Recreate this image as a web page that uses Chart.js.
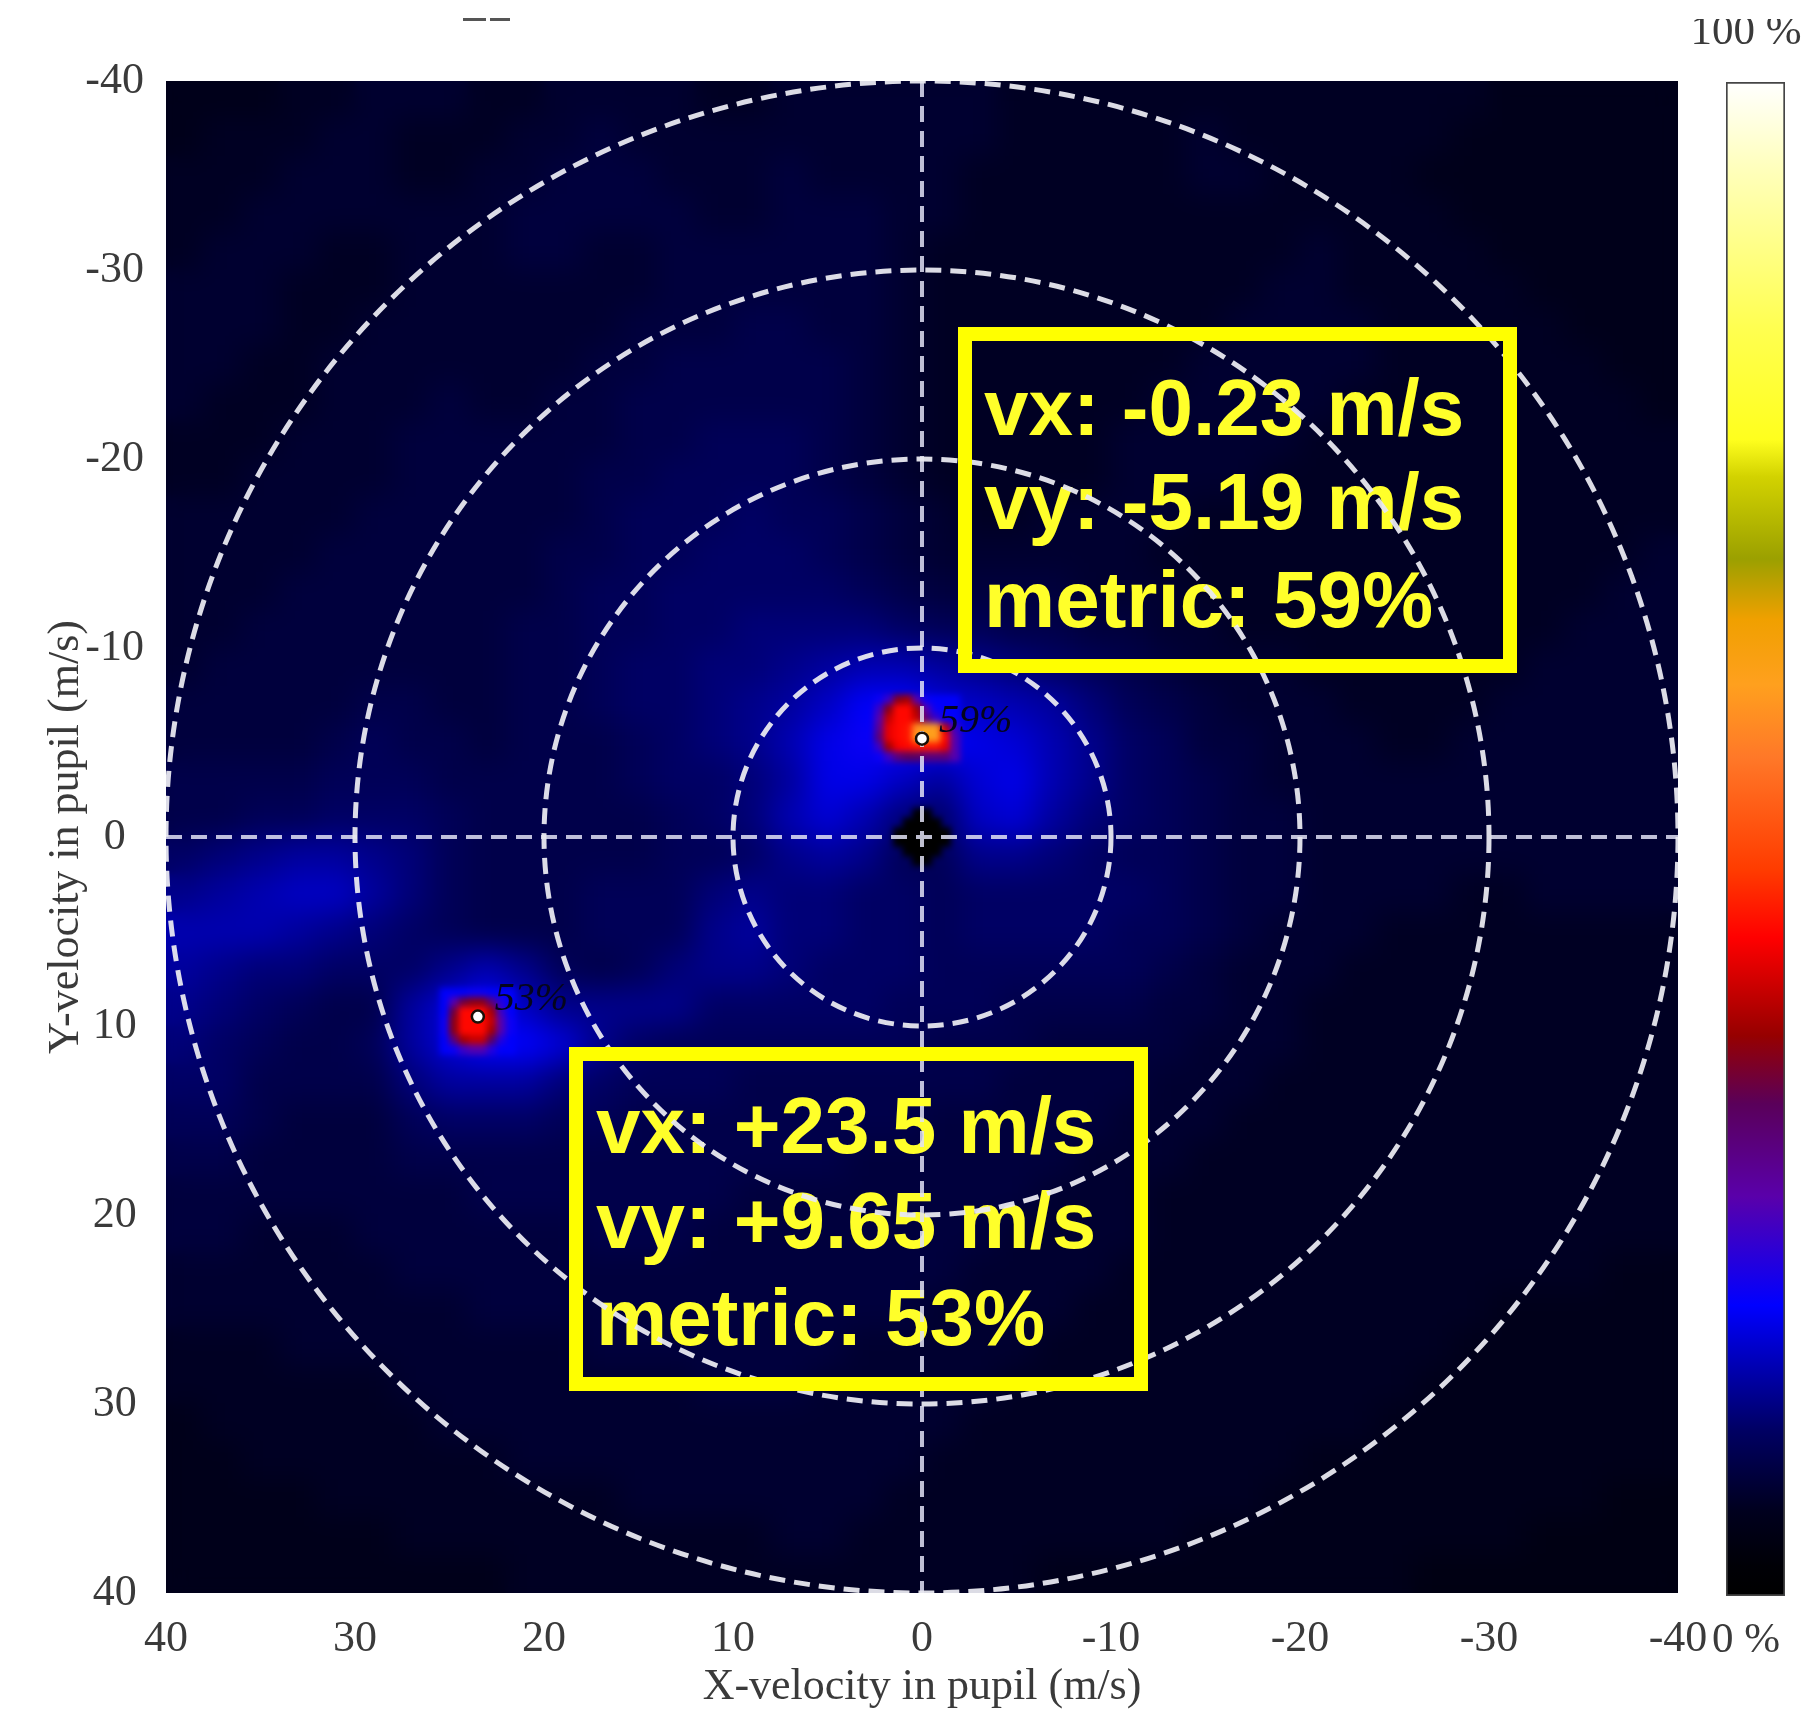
<!DOCTYPE html>
<html>
<head>
<meta charset="utf-8">
<title>Velocity map</title>
<script src="https://cdn.jsdelivr.net/npm/chart.js@4"></script>
<style>
  html, body { margin: 0; padding: 0; background: #fff; }
  #wrap { position: relative; width: 1808px; height: 1711px; overflow: hidden; }
  canvas { position: absolute; top: 0; }
  #mapChart { left: 0; }
  #barChart { left: 1680px; }
  .scrap { position: absolute; top: 18px; height: 3px; background: #555; }
</style>
</head>
<body>
<div id="wrap">
  <canvas id="mapChart" width="1808" height="1711"></canvas>
  <canvas id="barChart" width="128" height="1711"></canvas>
  <div class="scrap" style="left:463px;width:23px"></div>
  <div class="scrap" style="left:490px;width:20px"></div>
</div>
<script>
const axisTicks = [-40, -30, -20, -10, 0, 10, 20, 30, 40];
const ringRadii = [10, 20, 30, 40];
const xTitle = 'X-velocity in pupil (m/s)';
const yTitle = 'Y-velocity in pupil (m/s)';

// background map, 2 m/s cells, metric in %
const heatX = [39,37,35,33,31,29,27,25,23,21,19,17,15,13,11,9,7,5,3,1,-1,-3,-5,-7,-9,-11,-13,-15,-17,-19,-21,-23,-25,-27,-29,-31,-33,-35,-37,-39];
const heatY = [-39,-37,-35,-33,-31,-29,-27,-25,-23,-21,-19,-17,-15,-13,-11,-9,-7,-5,-3,-1,1,3,5,7,9,11,13,15,17,19,21,23,25,27,29,31,33,35,37,39];
const heatRows = [
  [5,5,5,6,6,7,7,7,6,6,7,7,7,7,6,6,7,7,7,7,7,7,6,6,6,6,6,6,6,6,6,6,6,6,6,5,5,5,5,5],
  [5,6,6,6,7,7,6,6,6,7,7,8,7,7,7,7,7,7,7,7,7,7,6,6,6,6,6,7,6,6,6,6,6,6,5,5,5,5,5,5],
  [6,6,6,7,7,7,6,6,7,7,8,8,8,7,7,7,8,7,7,7,7,6,6,6,6,6,6,7,7,6,6,6,6,5,5,5,5,5,5,5],
  [6,6,7,7,7,7,7,7,7,8,8,8,8,8,7,7,8,8,8,7,7,6,6,6,6,6,6,6,6,6,6,6,6,6,5,5,5,5,5,5],
  [6,7,7,7,6,6,7,7,7,8,8,7,7,8,8,8,8,8,8,7,6,6,6,6,6,6,6,6,6,6,7,6,6,6,6,5,5,5,5,5],
  [7,7,7,6,6,6,7,7,7,7,7,7,7,8,8,8,8,8,8,7,6,6,6,6,6,6,6,6,6,7,7,6,6,6,6,6,5,5,5,5],
  [7,7,7,6,6,7,7,7,7,7,7,7,8,8,8,9,9,8,8,7,6,6,6,6,6,6,6,6,7,7,7,7,6,6,6,6,6,5,5,5],
  [7,7,6,6,7,7,7,7,7,7,7,8,8,9,9,9,9,9,8,7,6,6,6,6,6,6,6,7,7,7,7,7,6,6,6,6,6,6,5,5],
  [7,6,6,6,7,7,7,8,7,7,8,8,9,9,9,9,9,9,8,7,6,6,6,6,6,6,7,7,7,7,7,6,6,6,6,6,6,6,6,5],
  [6,6,6,7,7,7,8,8,8,8,8,8,9,9,10,10,10,9,8,7,6,6,6,6,6,7,7,7,7,7,6,6,6,6,6,6,6,6,6,6],
  [6,6,7,7,7,7,8,8,8,8,8,9,9,10,10,10,10,9,8,7,6,6,6,6,6,7,7,7,7,6,6,6,6,6,6,6,6,6,6,6],
  [7,7,7,7,7,8,8,8,8,8,8,9,10,10,10,11,10,10,9,8,7,6,6,7,7,7,7,6,6,6,6,6,6,6,6,6,6,6,6,6],
  [7,7,7,7,8,8,8,8,8,8,9,9,10,10,11,11,11,10,9,8,7,7,7,7,7,7,6,6,6,6,6,6,6,6,6,6,6,6,6,7],
  [7,7,7,8,8,8,8,8,8,8,9,10,10,11,11,11,11,11,10,9,8,8,8,8,7,7,7,6,6,6,6,6,6,6,6,6,6,6,7,7],
  [7,7,8,8,8,8,8,8,8,9,9,10,10,11,11,12,12,12,12,11,10,10,9,9,8,8,7,7,6,6,6,6,6,6,6,6,6,7,7,7],
  [7,8,8,8,8,8,8,8,8,9,9,10,11,11,12,12,13,14,15,15,14,13,12,11,10,9,8,7,7,7,6,6,6,6,6,6,7,7,7,7],
  [8,8,8,8,8,9,9,8,8,9,9,10,11,11,12,13,14,16,19,19,17,16,15,14,12,10,9,8,7,7,7,6,6,6,6,7,7,7,7,7],
  [8,8,8,8,9,10,9,9,8,9,9,9,10,11,12,13,15,18,20,20,19,18,17,15,13,11,10,8,8,7,7,7,6,6,7,7,7,7,7,7],
  [9,9,9,9,10,10,10,9,9,9,9,9,10,11,11,12,14,18,18,16,14,17,18,15,13,11,10,9,8,7,7,7,7,7,7,7,7,7,7,7],
  [9,9,10,10,11,11,11,10,9,9,9,9,9,10,11,12,15,17,15,12,11,16,17,14,12,11,10,9,8,8,7,7,7,7,7,7,7,7,7,7],
  [11,12,13,14,14,13,12,10,9,9,9,9,9,10,10,11,13,14,13,10,10,13,13,12,11,10,10,9,8,8,7,7,7,7,7,7,7,7,7,7],
  [13,14,15,16,16,14,12,10,9,9,9,10,10,10,12,13,12,12,11,11,10,11,11,11,11,11,10,9,8,8,7,7,7,7,6,6,7,7,7,7],
  [15,15,15,14,13,12,11,10,9,9,9,10,10,10,13,14,12,12,11,11,10,11,11,11,11,10,10,9,8,7,7,7,6,6,6,6,6,6,6,6],
  [14,13,12,12,11,11,11,13,15,13,10,9,10,12,13,13,12,11,11,11,10,10,10,10,10,10,9,8,7,7,7,6,6,6,6,6,6,6,6,6],
  [13,12,11,10,9,9,14,17,19,16,13,13,13,13,11,11,11,11,11,10,10,10,9,9,9,9,8,8,7,7,6,6,6,6,6,6,6,6,6,6],
  [12,11,10,9,9,10,14,17,19,19,17,13,11,10,10,10,10,10,10,10,9,9,9,8,8,8,8,7,7,7,6,6,6,6,6,6,6,6,6,6],
  [11,11,9,9,9,9,12,14,14,14,12,11,10,10,10,9,9,9,9,9,9,9,8,8,8,8,7,7,7,6,6,6,6,6,6,6,6,6,6,6],
  [10,10,9,8,8,8,10,11,11,11,10,10,9,9,9,9,9,9,9,9,8,8,8,8,8,7,7,7,6,6,6,6,6,6,6,6,6,6,6,6],
  [9,9,8,8,8,8,9,9,9,9,9,9,9,9,9,9,9,9,8,8,8,8,8,8,7,7,7,6,6,6,6,6,6,6,6,6,6,6,6,6],
  [8,8,8,8,8,8,8,8,9,9,9,9,9,9,9,8,8,8,8,8,8,8,8,7,7,7,6,6,6,6,6,6,6,6,6,6,6,6,6,6],
  [8,8,7,7,7,8,8,8,8,8,8,9,9,9,8,8,8,8,8,8,8,8,7,7,7,7,6,6,6,6,6,6,6,6,6,6,6,6,6,6],
  [7,7,7,7,7,7,8,8,8,8,8,8,8,8,8,8,8,8,8,8,8,7,7,7,7,6,6,6,6,6,6,6,6,6,6,6,6,6,5,5],
  [7,7,7,7,7,7,7,7,8,8,8,8,8,8,8,8,8,8,8,8,7,7,7,7,6,6,6,6,6,6,6,6,6,6,6,5,5,5,5,5],
  [6,6,6,7,7,7,7,7,7,7,7,8,8,8,8,8,8,8,7,7,7,7,7,6,6,6,6,6,6,6,6,6,6,6,5,5,5,5,5,5],
  [6,6,6,6,6,6,7,7,7,7,7,7,7,7,8,8,8,7,7,7,7,7,6,6,6,6,6,6,6,6,6,6,6,5,5,5,5,5,5,5],
  [5,6,6,6,6,6,6,7,7,7,7,7,7,7,7,7,7,7,7,7,7,6,6,6,6,6,6,6,6,6,6,6,5,5,5,5,5,5,5,5],
  [5,5,6,6,6,6,6,6,6,7,7,7,7,7,7,7,7,7,7,7,6,6,6,6,6,6,6,6,6,6,5,5,5,5,5,5,5,5,5,5],
  [5,5,5,5,6,6,6,6,6,6,6,6,7,7,7,7,7,7,7,6,6,6,6,6,6,6,6,6,6,5,5,5,5,5,5,5,5,5,4,4],
  [5,5,5,5,5,5,6,6,6,6,6,6,6,6,6,6,7,7,6,6,6,6,6,6,6,6,6,5,5,5,5,5,5,5,5,5,4,4,4,4],
  [5,5,5,5,5,5,5,5,5,6,6,6,6,6,6,6,6,6,6,6,6,6,6,5,5,5,5,5,5,5,5,5,5,4,4,4,4,4,4,4]
];

// fine patches, 0.5 m/s cells
const patch59X = [2.25,1.75,1.25,0.75,0.25,-0.25,-0.75,-1.25,-1.75];
const patch59Y = [-7.25,-6.75,-6.25,-5.75,-5.25,-4.75,-4.25];
const patch59Rows = [
  [20,24,36,38,26,20,19,19,19],
  [24,36,44,44,38,26,20,19,19],
  [26,40,44,44,40,30,24,20,19],
  [28,42,44,45,58,60,60,40,24],
  [30,42,44,45,60,61,60,44,26],
  [24,38,43,44,45,45,45,42,26],
  [20,24,30,32,32,30,30,30,26]
];
const patch53X = [25.25,24.75,24.25,23.75,23.25,22.75,22.25,21.75];
const patch53Y = [8.25,8.75,9.25,9.75,10.25,10.75,11.25];
const patch53Rows = [
  [19,19,19,20,20,19,19,19],
  [19,26,34,36,36,30,22,19],
  [19,34,44,44,44,38,24,19],
  [20,36,44,44,44,40,26,20],
  [20,36,44,44,44,38,26,20],
  [19,30,38,40,40,32,22,19],
  [19,20,24,26,26,22,19,19]
];
const holeX = [1.25,0.75,0.25,-0.25,-0.75,-1.25];
const holeY = [-1.25,-0.75,-0.25,0.25,0.75,1.25];
const holeRows = [
  [null,null,0,0,null,null],
  [null,0,0,0,0,null],
  [0,0,0,0,0,0],
  [0,0,0,0,0,0],
  [null,0,0,0,0,null],
  [null,null,0,0,null,null]
];

const peakX = [0, 23.5];
const peakY = [-5.2, 9.5];
const peakLabels = ['59%', '53%'];

const colorStops = [0, 2, 5.6, 11, 19.2, 26.4, 32.5, 37.0, 43.5, 48.0, 55.4, 60.2, 64.5, 68.5, 73.9, 76.4, 83.7, 94.5, 100];
const colorValues = ['#000000','#000006','#00001e','#000064','#0000ff','#5a00aa','#5a005a','#960000','#ff0000','#ff3c00','#ff7828','#ffa01e','#f0a000','#9ba000','#d2d200','#ffff1e','#ffff50','#ffffbe','#ffffff'];
const colorbarTop = [100];

const serif = '"Liberation Serif", "Times New Roman", serif';
const sans = '"Liberation Sans", Arial, sans-serif';

const boxes = [
  { l: 958, t: 327, r: 1517, b: 673, x: 984, lines: [['vx: -0.23 m/s', 435], ['vy: -5.19 m/s', 529], ['metric: 59%', 627]] },
  { l: 569, t: 1047, r: 1148, b: 1391, x: 596, lines: [['vx: +23.5 m/s', 1153], ['vy: +9.65 m/s', 1248], ['metric: 53%', 1345]] }
];

function hex(c) {
  return [parseInt(c.slice(1, 3), 16), parseInt(c.slice(3, 5), 16), parseInt(c.slice(5, 7), 16)];
}

function metricColor(v) {
  let i = 0;
  while (i < colorStops.length - 2 && v > colorStops[i + 1]) i++;
  const a = hex(colorValues[i]), b = hex(colorValues[i + 1]);
  const t = Math.min(1, Math.max(0, (v - colorStops[i]) / (colorStops[i + 1] - colorStops[i])));
  return `rgb(${a.map((c, k) => Math.round(c + (b[k] - c) * t)).join(',')})`;
}

function cells(xs, ys, rows) {
  const out = [];
  rows.forEach((row, j) => row.forEach((v, i) => {
    if (v !== null) out.push({ x: xs[i], y: ys[j], v });
  }));
  return out;
}

function cellStyle(step) {
  return {
    pointStyle: 'rect',
    pointRadius: ctx => {
      const s = ctx.chart.scales.x;
      return (Math.abs(s.getPixelForValue(step) - s.getPixelForValue(0)) / 2 + 0.5) * Math.SQRT2;
    },
    pointBorderWidth: 0,
    pointHoverRadius: 0,
    pointBackgroundColor: ctx => metricColor(ctx.raw.v),
    clip: 0
  };
}

// blur what the dataset just painted, inside the plot only
function softenPlot(chart, radius) {
  const a = chart.chartArea, ctx = chart.ctx;
  ctx.save();
  ctx.beginPath();
  ctx.rect(a.left, a.top, a.width, a.height);
  ctx.clip();
  ctx.filter = `blur(${radius}px)`;
  ctx.drawImage(chart.canvas, a.left, a.top, a.width, a.height, a.left, a.top, a.width, a.height);
  ctx.restore();
}

function drawOverlay(chart) {
  const ctx = chart.ctx, a = chart.chartArea, x = chart.scales.x, y = chart.scales.y;

  ctx.save();
  ctx.beginPath();
  ctx.rect(a.left, a.top, a.width, a.height);
  ctx.clip();

  ctx.fillStyle = '#ffff2a';
  ctx.font = 'bold 80px ' + sans;
  ctx.textBaseline = 'alphabetic';
  ctx.textAlign = 'left';
  boxes.forEach(b => b.lines.forEach(l => ctx.fillText(l[0], b.x, l[1])));

  ctx.fillStyle = '#05051c';
  ctx.font = 'italic 40px ' + serif;
  peakLabels.forEach((t, i) => {
    ctx.fillText(t, x.getPixelForValue(peakX[i]) + 17, y.getPixelForValue(peakY[i]) - 7);
  });

  const cx = x.getPixelForValue(0), cy = y.getPixelForValue(0);
  ctx.setLineDash([16, 9]);
  ctx.lineWidth = 4;
  ctx.strokeStyle = 'rgba(225,225,245,0.85)';
  ctx.beginPath();
  ctx.moveTo(a.left, cy);
  ctx.lineTo(a.right, cy);
  ctx.moveTo(cx, a.top);
  ctx.lineTo(cx, a.bottom);
  ctx.stroke();

  ctx.lineWidth = 5;
  ctx.strokeStyle = 'rgba(232,232,240,0.95)';
  ringRadii.forEach(r => {
    ctx.beginPath();
    ctx.arc(cx, cy, Math.abs(x.getPixelForValue(r) - cx), 0, Math.PI * 2);
    ctx.stroke();
  });
  ctx.setLineDash([]);

  ctx.strokeStyle = '#ffff00';
  ctx.lineWidth = 14;
  boxes.forEach(b => ctx.strokeRect(b.l + 7, b.t + 7, b.r - b.l - 14, b.b - b.t - 14));
  ctx.restore();
}

const mapPlugin = {
  id: 'mapPlugin',
  afterDatasetDraw(chart, args) {
    if (args.index === 2) softenPlot(chart, 14);
    if (args.index === 1) softenPlot(chart, 3);
  },
  beforeDatasetDraw(chart, args) {
    if (args.index === 0) drawOverlay(chart);
  }
};

new Chart(document.getElementById('mapChart'), {
  type: 'scatter',
  data: {
    datasets: [
      {
        label: 'peaks',
        data: peakX.map((x, i) => ({ x, y: peakY[i] })),
        order: 0,
        pointRadius: 6,
        pointBackgroundColor: '#ffffff',
        pointBorderColor: '#1a1008',
        pointBorderWidth: 2.5
      },
      {
        label: 'fine cells',
        data: cells(patch59X, patch59Y, patch59Rows)
          .concat(cells(patch53X, patch53Y, patch53Rows), cells(holeX, holeY, holeRows)),
        order: 1,
        ...cellStyle(0.5)
      },
      {
        label: 'map',
        data: cells(heatX, heatY, heatRows),
        order: 2,
        ...cellStyle(2)
      }
    ]
  },
  options: {
    responsive: false,
    animation: false,
    events: [],
    layout: { padding: { left: 0, right: 130, top: 81, bottom: 0 } },
    plugins: { legend: { display: false }, tooltip: { enabled: false } },
    scales: {
      x: {
        type: 'linear',
        reverse: true,
        min: -40,
        max: 40,
        afterFit: s => { s.height = 118; },
        afterBuildTicks: s => { s.ticks = axisTicks.map(value => ({ value })); },
        grid: { display: false, drawTicks: false },
        border: { display: false },
        ticks: { color: '#3a3a3a', font: { family: serif, size: 44 }, padding: 20, maxRotation: 0, autoSkip: false },
        title: { display: true, text: xTitle, color: '#3a3a3a', font: { family: serif, size: 44 }, padding: { top: 0, bottom: -3 } }
      },
      y: {
        type: 'linear',
        reverse: true,
        min: -40,
        max: 40,
        afterFit: s => { s.width = 166; },
        afterBuildTicks: s => { s.ticks = axisTicks.map(value => ({ value })); },
        grid: { display: false, drawTicks: false },
        border: { display: false },
        ticks: { color: '#3a3a3a', font: { family: serif, size: 44 }, padding: 22, crossAlign: 'center', autoSkip: false },
        title: { display: true, text: yTitle, color: '#3a3a3a', font: { family: serif, size: 44 }, padding: { top: 40, bottom: 0 } }
      }
    }
  },
  plugins: [mapPlugin]
});

const barPlugin = {
  id: 'barPlugin',
  afterDraw(chart) {
    const ctx = chart.ctx, w = chart.width;
    ctx.save();
    ctx.fillStyle = '#3a3a3a';
    ctx.font = '43px ' + serif;
    ctx.textAlign = 'center';
    ctx.textBaseline = 'alphabetic';
    ctx.fillText('0 %', 66, 1652);
    ctx.beginPath();
    ctx.rect(0, 19, w, 60);
    ctx.clip();
    ctx.fillText('100 %', 66, 44);
    ctx.restore();
  }
};

new Chart(document.getElementById('barChart'), {
  type: 'bar',
  data: {
    labels: ['metric'],
    datasets: [{
      data: colorbarTop,
      barPercentage: 1,
      categoryPercentage: 1,
      borderColor: '#454545',
      borderWidth: 2,
      borderSkipped: false,
      backgroundColor: ctx => {
        const y = ctx.chart.scales.y;
        if (!y || !Number.isFinite(y.getPixelForValue(0)) || !Number.isFinite(y.getPixelForValue(100))) return '#000';
        const g = ctx.chart.ctx.createLinearGradient(0, y.getPixelForValue(0), 0, y.getPixelForValue(100));
        colorStops.forEach((s, i) => g.addColorStop(s / 100, colorValues[i]));
        return g;
      }
    }]
  },
  options: {
    responsive: false,
    animation: false,
    events: [],
    layout: { padding: { left: 46, right: 23, top: 82, bottom: 115 } },
    plugins: { legend: { display: false }, tooltip: { enabled: false } },
    scales: {
      x: { display: false },
      y: { display: false, min: 0, max: 100 }
    }
  },
  plugins: [barPlugin]
});
</script>
</body>
</html>
